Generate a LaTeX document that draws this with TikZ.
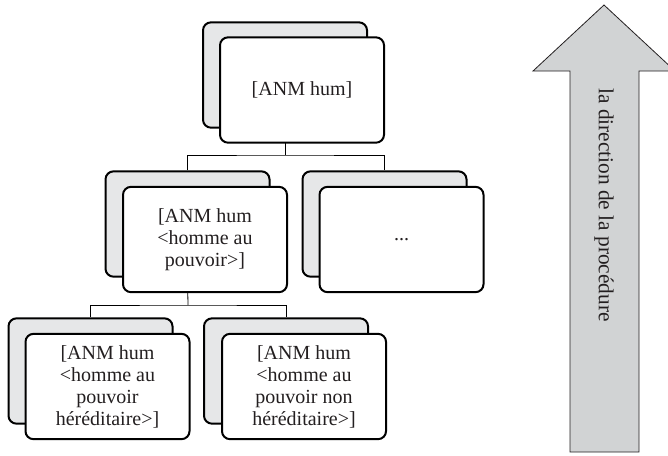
\documentclass[tikz,border=0pt]{standalone}
\usepackage{fontspec}
\setmainfont{Liberation Serif}
\definecolor{backgray}{RGB}{230,231,232}
\definecolor{arrowgray}{RGB}{209,211,212}
\definecolor{inkblack}{RGB}{35,31,32}
\begin{document}
\begin{tikzpicture}[x=0.75pt,y=-0.75pt]

    \tikzset{
      backbox/.style={
        draw=black,
        fill=backgray,
        line width=1.5pt,
        rounded corners=6pt,
        minimum width=123pt,
        minimum height=79pt,
        inner sep=0pt,
      },
      frontbox/.style={
        backbox,
        fill=white,
        align=center,
        text=inkblack,
        font=\fontsize{15}{16.5}\selectfont,
      },
      link/.style={draw=black, line width=0.6pt},
    }

	\useasboundingbox (0,0) rectangle (668,455);

	% junction points of the tree
	\coordinate (j1) at (285,155);
	\coordinate (j2) at (188,305);

	% back boxes
	\node[backbox] (topb) at (285,75) {};
	\node[backbox] (mlb) at (187.5,224) {};
	\node[backbox] (mrb) at (384.5,224) {};
	\node[backbox] (blb) at (90.5,371) {};
	\node[backbox] (brb) at (286,371) {};

	% connectors
	\draw[link] (topb.south) -- (j1);
	\draw[link] (mlb.north) |- (j1) -| (mrb.north);
	\draw[link] (mlb.south) -- (j2);
	\draw[link] (blb.north) |- (j2) -| (brb.north);

	% front boxes
	\node[frontbox] (topf) at (302,90) {[ANM hum]};
	\node[frontbox] (mlf) at (205,239.5) {[ANM hum\\ <homme au\\ pouvoir>]};
	\node[frontbox] (mrf) at (401.5,239.5) {...};
	\node[frontbox] (blf) at (107.5,386.5) {[ANM hum\\ <homme au\\ pouvoir\\ héréditaire>]};
	\node[frontbox] (brf) at (304,386.5) {[ANM hum\\ <homme au\\ pouvoir non\\ héréditaire>]};

	% arrow
	\begin{scope}
	\clip (0,0) rectangle (668,455);
	\filldraw[draw=inkblack, fill=arrowgray, line width=0.6pt] (604,5) -- (675,71) -- (639,71) -- (639,452) -- (570,452) -- (570,71) -- (533,71) -- cycle;
	\end{scope}
	\node[rotate=-90, anchor=west, text=inkblack, font=\fontsize{16}{19}\selectfont, inner sep=0pt] (dir) at (604,88) {la direction de la procédure};

\end{tikzpicture}
\end{document}
